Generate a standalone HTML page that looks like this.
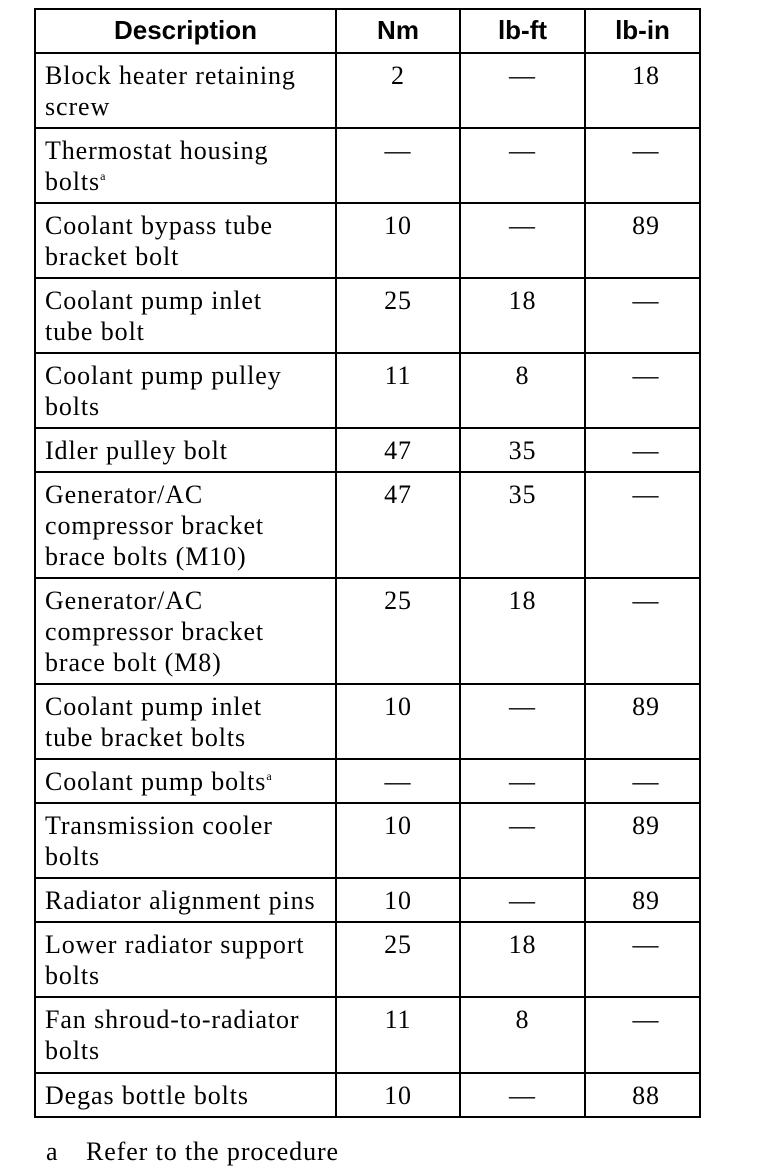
<!DOCTYPE html>
<html><head><style>
body{margin:0;background:#fff;width:768px;height:1172px;position:relative;overflow:hidden;font-family:"Liberation Serif",serif;color:#000}
.h{position:absolute;left:34px;width:667px;height:2px;background:#000}
.v{position:absolute;top:8px;height:1110px;width:2px;background:#000}
.t{position:absolute;font-size:26px;line-height:31px;white-space:nowrap;letter-spacing:0.9px}
.c{text-align:center}
.hd{position:absolute;top:15px;font-family:"Liberation Sans",sans-serif;font-weight:bold;font-size:26px;line-height:30px;text-align:center}
sup{font-size:12px;vertical-align:top;line-height:20px}
</style></head><body>
<div class="v" style="left:34px"></div><div class="v" style="left:335px"></div><div class="v" style="left:459px"></div><div class="v" style="left:584px"></div><div class="v" style="left:699px"></div>
<div class="h" style="top:8px"></div>
<div class="h" style="top:52px"></div>
<div class="h" style="top:127px"></div>
<div class="h" style="top:202px"></div>
<div class="h" style="top:277px"></div>
<div class="h" style="top:352px"></div>
<div class="h" style="top:427px"></div>
<div class="h" style="top:471px"></div>
<div class="h" style="top:577px"></div>
<div class="h" style="top:683px"></div>
<div class="h" style="top:758px"></div>
<div class="h" style="top:802px"></div>
<div class="h" style="top:877px"></div>
<div class="h" style="top:921px"></div>
<div class="h" style="top:996px"></div>
<div class="h" style="top:1072px"></div>
<div class="h" style="top:1116px"></div>
<div class="hd" style="left:36px;width:299px">Description</div>
<div class="hd" style="left:337px;width:122px">Nm</div>
<div class="hd" style="left:461px;width:123px">lb-ft</div>
<div class="hd" style="left:586px;width:113px">lb-in</div>
<div id="rows"></div>
<div class="t" style="left:46px;top:1136px">a</div>
<div class="t" style="left:86px;top:1136px">Refer to the procedure</div>
<script>
var R=[[52,"Block heater retaining<br>screw","2","—","18"],
[127,"Thermostat housing<br>bolts<sup>a</sup>","—","—","—"],
[202,"Coolant bypass tube<br>bracket bolt","10","—","89"],
[277,"Coolant pump inlet<br>tube bolt","25","18","—"],
[352,"Coolant pump pulley<br>bolts","11","8","—"],
[427,"Idler pulley bolt","47","35","—"],
[471,"Generator/AC<br>compressor bracket<br>brace bolts (M10)","47","35","—"],
[577,"Generator/AC<br>compressor bracket<br>brace bolt (M8)","25","18","—"],
[683,"Coolant pump inlet<br>tube bracket bolts","10","—","89"],
[758,"Coolant pump bolts<sup>a</sup>","—","—","—"],
[802,"Transmission cooler<br>bolts","10","—","89"],
[877,"Radiator alignment pins","10","—","89"],
[921,"Lower radiator support<br>bolts","25","18","—"],
[996,"Fan shroud-to-radiator<br>bolts","11","8","—"],
[1072,"Degas bottle bolts","10","—","88"]];
var h="";R.forEach(function(r){var y=r[0]+8;
h+='<div class="t" style="left:45px;top:'+y+'px">'+r[1]+'</div>';
h+='<div class="t c" style="left:337px;width:122px;top:'+y+'px">'+r[2]+'</div>';
h+='<div class="t c" style="left:461px;width:123px;top:'+y+'px">'+r[3]+'</div>';
h+='<div class="t c" style="left:586px;width:120px;top:'+y+'px">'+r[4]+'</div>';});
document.getElementById("rows").innerHTML=h;
</script>
</body></html>
